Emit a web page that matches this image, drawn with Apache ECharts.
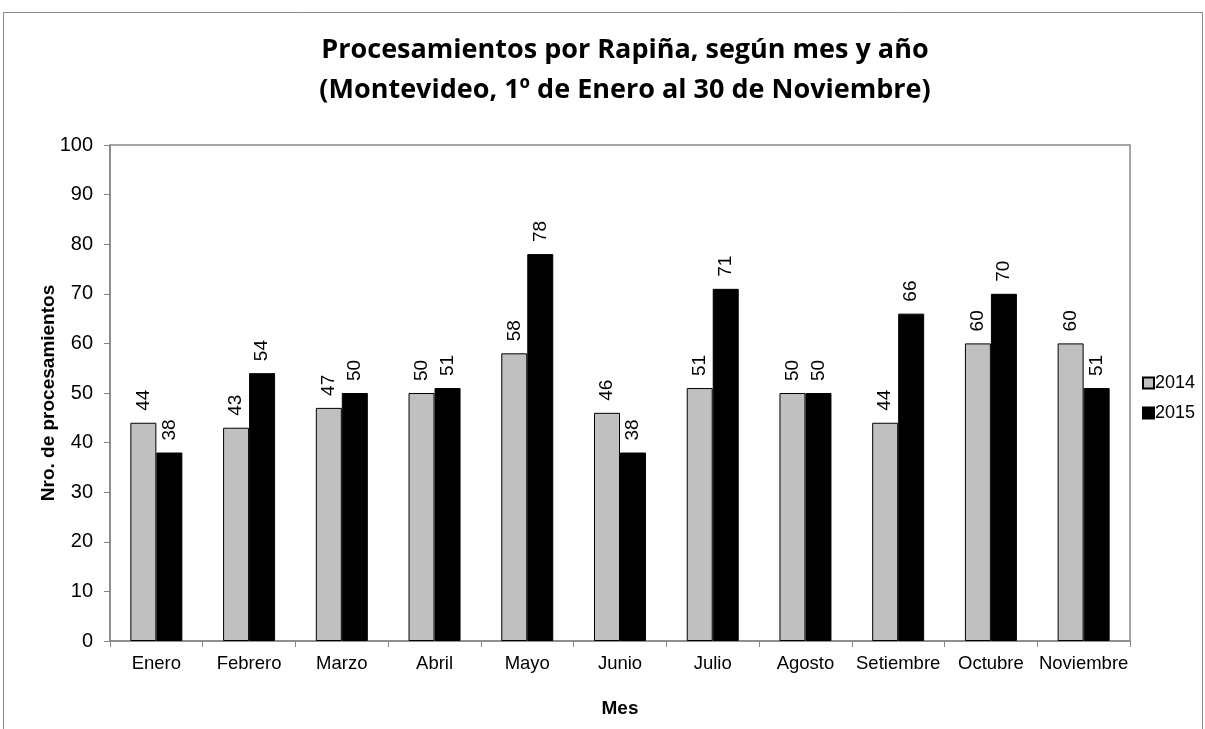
<!DOCTYPE html>
<html>
<head>
<meta charset="utf-8">
<script src="https://cdn.jsdelivr.net/npm/echarts@6/dist/echarts.min.js"></script>
<style>
  html, body { margin: 0; padding: 0; background: #fff; }
  #chart { width: 1205px; height: 729px; }
</style>
</head>
<body>
<div id="chart"></div>
<script>
// data
const months = ["Enero", "Febrero", "Marzo", "Abril", "Mayo", "Junio", "Julio", "Agosto", "Setiembre", "Octubre", "Noviembre"];
const values2014 = [44, 43, 47, 50, 58, 46, 51, 50, 44, 60, 60];
const values2015 = [38, 54, 50, 51, 78, 38, 71, 50, 66, 70, 51];
const yTicks = { min: 0, max: 100, interval: 10 };

const axisFont = "'Liberation Sans', Arial, sans-serif";

const barLabel = {
  show: true,
  position: "top",
  rotate: 90,
  align: "left",
  verticalAlign: "middle",
  distance: 12,
  color: "#000",
  fontSize: 19,
  fontFamily: axisFont
};

const chart = echarts.init(document.getElementById("chart"));

const option = {
  backgroundColor: "#fff",
  animation: false,
  title: {
    text: "Procesamientos por Rapiña, según mes y año\n(Montevideo, 1º de Enero al 30 de Noviembre)",
    left: 620,
    top: 25,
    textAlign: "center",
    textStyle: {
      fontFamily: "'Open Sans', sans-serif",
      fontWeight: "bold",
      fontSize: 27,
      lineHeight: 40,
      color: "#000"
    }
  },
  legend: {
    orient: "vertical",
    left: 1137,
    top: 369,
    itemWidth: 11,
    itemHeight: 11,
    itemGap: 12,
    icon: "rect",
    textStyle: { fontFamily: axisFont, fontSize: 18, color: "#000", padding: [0, 0, 0, -4] },
    data: ["2014", "2015"]
  },
  grid: { left: 110, right: 75, top: 145, bottom: 88 },
  xAxis: {
    type: "category",
    data: months,
    name: "Mes",
    nameLocation: "middle",
    nameGap: 58,
    nameMoveOverlap: false,
    nameTextStyle: { fontFamily: axisFont, fontWeight: "bold", fontSize: 19, color: "#000" },
    axisLine: { lineStyle: { color: "#868686", width: 1.5 } },
    axisTick: { show: true, length: 6, lineStyle: { color: "#868686" } },
    axisLabel: { fontFamily: axisFont, fontSize: 18.5, color: "#000", margin: 13, interval: 0 },
    splitLine: { show: false }
  },
  yAxis: {
    type: "value",
    min: yTicks.min,
    max: yTicks.max,
    interval: yTicks.interval,
    name: "Nro. de procesamientos",
    nameLocation: "middle",
    nameGap: 52,
    nameMoveOverlap: false,
    nameTextStyle: { fontFamily: axisFont, fontWeight: "bold", fontSize: 19, color: "#000" },
    axisLine: { show: true, lineStyle: { color: "#868686", width: 1.5 } },
    axisTick: { show: true, length: 6, lineStyle: { color: "#868686" } },
    axisLabel: { fontFamily: axisFont, fontSize: 20, color: "#000", margin: 17 },
    splitLine: { show: false }
  },
  graphic: [
    {
      type: "rect",
      shape: { x: 3.5, y: 12.5, width: 1199, height: 740 },
      style: { fill: null, stroke: "#868686", lineWidth: 1 },
      silent: true
    },
    {
      type: "rect",
      shape: { x: 110, y: 145, width: 1020, height: 496 },
      style: { fill: null, stroke: "#868686", lineWidth: 1.5 },
      silent: true
    }
  ],
  series: [
    {
      name: "2014",
      type: "bar",
      data: values2014,
      barWidth: 26,
      barGap: "0%",
      itemStyle: { color: "#c0c0c0", borderColor: "#000", borderWidth: 1 },
      label: barLabel
    },
    {
      name: "2015",
      type: "bar",
      data: values2015,
      barWidth: 26,
      itemStyle: { color: "#000", borderColor: "#000", borderWidth: 1 },
      label: barLabel
    }
  ]
};

chart.setOption(option);
</script>
</body>
</html>
